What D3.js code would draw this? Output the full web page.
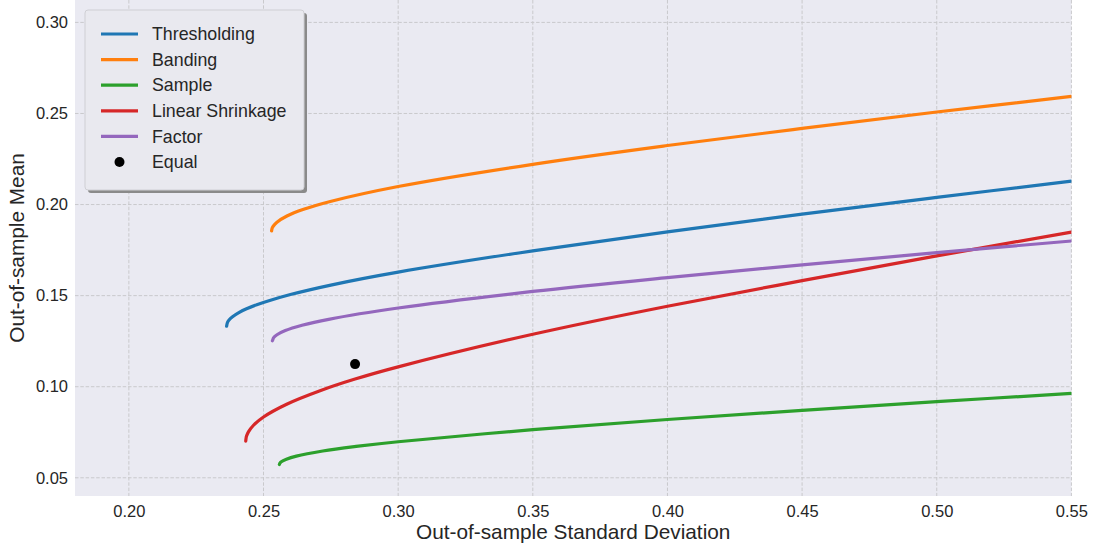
<!DOCTYPE html>
<html><head><meta charset="utf-8">
<script src="https://cdn.jsdelivr.net/npm/d3@7"></script>
<style>
html,body{margin:0;padding:0;background:#fff;}
svg{display:block;font-family:"Liberation Sans",Arial,sans-serif;}
</style></head>
<body><svg id="chart" width="1096" height="547"></svg>
<script>
// Data: [std dev, mean] pairs
const thresholding = [[0.2363,0.1332],[0.2366,0.1352],[0.2372,0.1366],[0.2385,0.1384],[0.2410,0.1408],[0.2437,0.1428],[0.2475,0.1450],[0.2520,0.1472],[0.2600,0.1506],[0.2750,0.1558],[0.3000,0.1629],[0.3500,0.1746],[0.4000,0.1850],[0.4500,0.1947],[0.5000,0.2039],[0.5500,0.2129]];
const banding = [[0.2530,0.1855],[0.2532,0.1870],[0.2536,0.1881],[0.2550,0.1903],[0.2587,0.1937],[0.2649,0.1974],[0.2748,0.2017],[0.3000,0.2099],[0.3500,0.2221],[0.4000,0.2324],[0.4500,0.2418],[0.5000,0.2508],[0.5500,0.2594]];
const sample = [[0.2559,0.0573],[0.2561,0.0580],[0.2566,0.0588],[0.2585,0.0602],[0.2622,0.0619],[0.2720,0.0647],[0.2844,0.0672],[0.3000,0.0698],[0.3500,0.0764],[0.4000,0.0820],[0.4500,0.0870],[0.5000,0.0918],[0.5500,0.0963]];
const linearShrinkage = [[0.2434,0.0701],[0.2435,0.0714],[0.2437,0.0729],[0.2444,0.0752],[0.2462,0.0787],[0.2500,0.0834],[0.2586,0.0904],[0.2710,0.0978],[0.2840,0.1042],[0.3000,0.1109],[0.3500,0.1288],[0.4000,0.1442],[0.4500,0.1582],[0.5000,0.1718],[0.5500,0.1849]];
const factor = [[0.2533,0.1252],[0.2535,0.1260],[0.2537,0.1268],[0.2550,0.1285],[0.2581,0.1308],[0.2643,0.1337],[0.2742,0.1370],[0.3000,0.1432],[0.3500,0.1523],[0.4000,0.1599],[0.4500,0.1669],[0.5000,0.1736],[0.5500,0.1800]];
const equalPoint = [[0.2840,0.1124]];

const seriesNames = ["Thresholding","Banding","Sample","Linear Shrinkage","Factor"];
const seriesData = [thresholding, banding, sample, linearShrinkage, factor];
const seriesColors = ["#1f77b4","#ff7f0e","#2ca02c","#d62728","#9467bd"];
const xTicks = [0.20,0.25,0.30,0.35,0.40,0.45,0.50,0.55];
const yTicks = [0.05,0.10,0.15,0.20,0.25,0.30];

const svg = d3.select("#chart");
const L = 75, R = 1071.4, T = 0, B = 496;
const x = d3.scaleLinear().domain([0.18,0.55]).range([L,R]);
const y = d3.scaleLinear().domain([0.04,0.3123]).range([B,T]);

svg.append("rect").attr("x",L).attr("y",T).attr("width",R-L).attr("height",B-T).attr("fill","#eaeaf2");

// grid
const grid = svg.append("g");
grid.selectAll(".gx").data(xTicks).join("line")
  .attr("x1",d=>x(d)).attr("x2",d=>x(d)).attr("y1",T).attr("y2",B)
  .attr("stroke","#c9c9cc").attr("stroke-width",1).attr("stroke-dasharray","3.5,1.8");
grid.selectAll(".gy").data(yTicks).join("line")
  .attr("x1",L).attr("x2",R).attr("y1",d=>y(d)).attr("y2",d=>y(d))
  .attr("stroke","#c9c9cc").attr("stroke-width",1).attr("stroke-dasharray","3.5,1.8");

// axes
const xAxis = svg.append("g").attr("transform",`translate(0,${B})`)
  .call(d3.axisBottom(x).tickValues(xTicks).tickFormat(d3.format(".2f")).tickSize(0).tickPadding(9));
const yAxis = svg.append("g").attr("transform",`translate(${L},0)`)
  .call(d3.axisLeft(y).tickValues(yTicks).tickFormat(d3.format(".2f")).tickSize(0).tickPadding(7));
[xAxis,yAxis].forEach(a=>{
  a.select(".domain").remove();
  a.selectAll("text").attr("fill","#262626").style("font-size","16.5px").style("font-family","'Liberation Sans',Arial,sans-serif");
});

svg.append("text").attr("x",(L+R)/2).attr("y",539).attr("text-anchor","middle")
  .attr("fill","#262626").style("font-size","20.8px").text("Out-of-sample Standard Deviation");
svg.append("text").attr("transform",`translate(24,${(T+B)/2}) rotate(-90)`).attr("text-anchor","middle")
  .attr("fill","#262626").style("font-size","20.8px").text("Out-of-sample Mean");

// lines
const line = d3.line().x(d=>x(d[0])).y(d=>y(d[1])).curve(d3.curveCatmullRom.alpha(0.5));
svg.append("clipPath").attr("id","clip").append("rect").attr("x",L).attr("y",T).attr("width",R-L).attr("height",B-T);
const lg = svg.append("g").attr("clip-path","url(#clip)");
seriesData.forEach((s,i)=>{
  lg.append("path").datum(s).attr("d",line).attr("fill","none")
    .attr("stroke",seriesColors[i]).attr("stroke-width",3.2).attr("stroke-linecap","round");
});
lg.selectAll(".eq").data(equalPoint).join("circle")
  .attr("cx",d=>x(d[0])).attr("cy",d=>y(d[1])).attr("r",5).attr("fill","#000");

// legend
const lx = 85, ly = 10, lw = 219, lh = 180;
svg.append("rect").attr("x",lx+3).attr("y",ly+3).attr("width",lw).attr("height",lh).attr("rx",3)
  .attr("fill","#8a8a8a");
svg.append("rect").attr("x",lx).attr("y",ly).attr("width",lw).attr("height",lh).attr("rx",3)
  .attr("fill","#e9e9ef").attr("stroke","#cfcfd4").attr("stroke-width",1);
const rowY = i => 34 + i*25.6;
seriesNames.forEach((n,i)=>{
  svg.append("line").attr("x1",101).attr("x2",138).attr("y1",rowY(i)).attr("y2",rowY(i))
    .attr("stroke",seriesColors[i]).attr("stroke-width",3.2);
  svg.append("text").attr("x",152).attr("y",rowY(i)).attr("dy","0.35em")
    .attr("fill","#262626").style("font-size","17.8px").text(n);
});
svg.append("circle").attr("cx",119.5).attr("cy",rowY(5)).attr("r",5).attr("fill","#000");
svg.append("text").attr("x",152).attr("y",rowY(5)).attr("dy","0.35em")
  .attr("fill","#262626").style("font-size","17.8px").text("Equal");
</script></body></html>
